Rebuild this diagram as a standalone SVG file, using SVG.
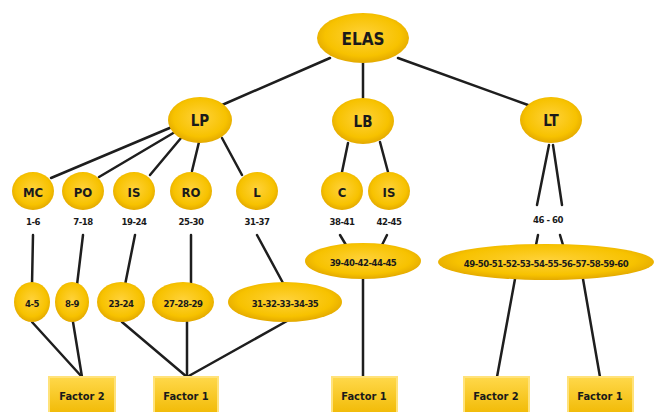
<svg xmlns="http://www.w3.org/2000/svg" width="655" height="412" viewBox="0 0 655 412">
<defs>
<radialGradient id="g" cx="50%" cy="45%" r="55%">
<stop offset="0" stop-color="#FFD23A"/>
<stop offset="0.75" stop-color="#F7C200"/>
<stop offset="1" stop-color="#E3A900"/>
</radialGradient>
<linearGradient id="b" x1="0" y1="0" x2="0" y2="1">
<stop offset="0" stop-color="#FFD84A"/>
<stop offset="1" stop-color="#F0B800"/>
</linearGradient>
<style>
.n{fill:url(#g);}
.r{fill:url(#b);stroke:#FFE27A;stroke-width:2;}
.c{stroke:#1E1E1E;stroke-width:2.5;fill:none;stroke-linecap:round;}
text{font-family:"Liberation Sans Narrow","DejaVu Sans Condensed","Liberation Sans",sans-serif;font-weight:bold;fill:#1A1A1A;text-anchor:middle;dominant-baseline:central;}
.t1{font-size:17px;}
.t2{font-size:15px;}
.t3{font-size:13px;}
.s{font-size:9.5px;letter-spacing:-0.5px;}
.f{font-size:11px;}
</style>
</defs>
<rect width="655" height="412" fill="#FFFFFF"/>
<g id="connectors">
<line class="c" x1="330" y1="58" x2="222" y2="105"/>
<line class="c" x1="363" y1="63" x2="363" y2="98"/>
<line class="c" x1="398" y1="58" x2="528" y2="105"/>
<line class="c" x1="172" y1="127" x2="51" y2="178"/>
<line class="c" x1="175" y1="132" x2="99" y2="177"/>
<line class="c" x1="181" y1="138" x2="150" y2="175"/>
<line class="c" x1="199" y1="142" x2="192" y2="171"/>
<line class="c" x1="222" y1="138" x2="242" y2="175"/>
<line class="c" x1="348" y1="143" x2="342" y2="172"/>
<line class="c" x1="380" y1="142" x2="388" y2="172"/>
<line class="c" x1="549" y1="145" x2="537" y2="205"/>
<line class="c" x1="553" y1="145" x2="562" y2="205"/>
<line class="c" x1="33" y1="235" x2="32" y2="285"/>
<line class="c" x1="83" y1="235" x2="77" y2="285"/>
<line class="c" x1="135" y1="235" x2="125" y2="285"/>
<line class="c" x1="191" y1="235" x2="191" y2="283"/>
<line class="c" x1="257" y1="235" x2="283" y2="283"/>
<line class="c" x1="340" y1="235" x2="346" y2="245"/>
<line class="c" x1="387" y1="235" x2="382" y2="245"/>
<line class="c" x1="538" y1="235" x2="536" y2="245"/>
<line class="c" x1="560" y1="235" x2="563" y2="245"/>
<line class="c" x1="32" y1="322" x2="82" y2="377"/>
<line class="c" x1="73" y1="322" x2="82" y2="377"/>
<line class="c" x1="122" y1="322" x2="187" y2="377"/>
<line class="c" x1="187" y1="322" x2="187" y2="377"/>
<line class="c" x1="287" y1="321" x2="187" y2="377"/>
<line class="c" x1="363" y1="279" x2="363" y2="377"/>
<line class="c" x1="515" y1="279" x2="497" y2="377"/>
<line class="c" x1="583" y1="279" x2="600" y2="377"/>
</g>
<g id="ELAS"><ellipse class="n" cx="363" cy="38" rx="46" ry="25"/><text class="t1" x="363" y="39">ELAS</text></g>
<g id="LP"><ellipse class="n" cx="200" cy="120" rx="32" ry="23"/><text class="t2" x="200" y="121">LP</text></g>
<g id="LB"><ellipse class="n" cx="363" cy="121" rx="31" ry="23"/><text class="t2" x="363" y="122">LB</text></g>
<g id="LT"><ellipse class="n" cx="551" cy="120" rx="31" ry="23"/><text class="t2" x="551" y="121">LT</text></g>
<g id="MC"><ellipse class="n" cx="33" cy="191" rx="21" ry="19"/><text class="t3" x="33" y="192">MC</text><text class="s" x="33" y="221">1-6</text></g>
<g id="PO"><ellipse class="n" cx="83" cy="191" rx="21" ry="19"/><text class="t3" x="83" y="192">PO</text><text class="s" x="83" y="221">7-18</text></g>
<g id="IS1"><ellipse class="n" cx="134" cy="191" rx="21" ry="19"/><text class="t3" x="134" y="192">IS</text><text class="s" x="134" y="221">19-24</text></g>
<g id="RO"><ellipse class="n" cx="191" cy="191" rx="21" ry="19"/><text class="t3" x="191" y="192">RO</text><text class="s" x="191" y="221">25-30</text></g>
<g id="L"><ellipse class="n" cx="257" cy="191" rx="21" ry="19"/><text class="t3" x="257" y="192">L</text><text class="s" x="257" y="221">31-37</text></g>
<g id="C"><ellipse class="n" cx="342" cy="191" rx="21" ry="19"/><text class="t3" x="342" y="192">C</text><text class="s" x="342" y="221">38-41</text></g>
<g id="IS2"><ellipse class="n" cx="389" cy="191" rx="21" ry="19"/><text class="t3" x="389" y="192">IS</text><text class="s" x="389" y="221">42-45</text></g>
<g id="LTlabel"><text class="s" x="548" y="219">46 - 60</text></g>
<g id="n45"><ellipse class="n" cx="32" cy="302" rx="18" ry="20"/><text class="s" x="32" y="303">4-5</text></g>
<g id="n89"><ellipse class="n" cx="72" cy="302" rx="17" ry="20"/><text class="s" x="72" y="303">8-9</text></g>
<g id="n2324"><ellipse class="n" cx="121" cy="302" rx="24" ry="20"/><text class="s" x="121" y="303">23-24</text></g>
<g id="n272829"><ellipse class="n" cx="183" cy="302" rx="31" ry="20"/><text class="s" x="183" y="303">27-28-29</text></g>
<g id="n3135"><ellipse class="n" cx="285" cy="302" rx="57" ry="20"/><text class="s" x="285" y="303">31-32-33-34-35</text></g>
<g id="n3945"><ellipse class="n" cx="363" cy="261" rx="58" ry="18"/><text class="s" x="363" y="262">39-40-42-44-45</text></g>
<g id="n4960"><ellipse class="n" cx="546" cy="262" rx="108" ry="18"/><text class="s" x="546" y="263">49-50-51-52-53-54-55-56-57-58-59-60</text></g>
<g id="F2a"><rect class="r" x="49" y="377" width="66" height="40"/><text class="f" x="82" y="396">Factor 2</text></g>
<g id="F1a"><rect class="r" x="154" y="377" width="64" height="40"/><text class="f" x="186" y="396">Factor 1</text></g>
<g id="F1b"><rect class="r" x="332" y="377" width="65" height="40"/><text class="f" x="364" y="396">Factor 1</text></g>
<g id="F2b"><rect class="r" x="464" y="377" width="65" height="40"/><text class="f" x="496" y="396">Factor 2</text></g>
<g id="F1c"><rect class="r" x="568" y="377" width="65" height="40"/><text class="f" x="600" y="396">Factor 1</text></g>
</svg>
